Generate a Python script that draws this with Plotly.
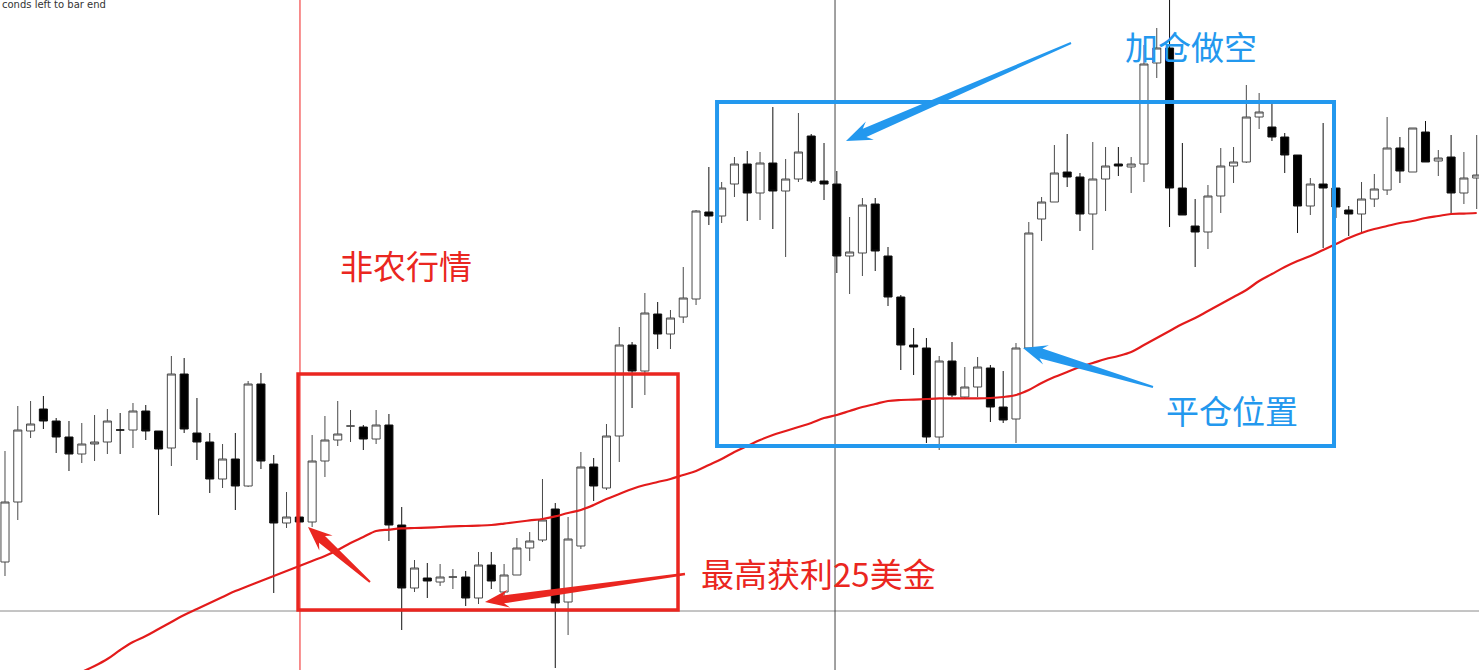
import math
import plotly.graph_objects as go

# ---- price data (one bar per entry) ----
opens = [1894.5, 1909.5, 1927.25, 1932.75, 1929.75, 1925.75, 1921.5, 1924, 1924.5, 1927.5,
         1927.5, 1932.25, 1927.25, 1923, 1941.5, 1926.75, 1924.5, 1915.25, 1920.25, 1913.5,
         1939, 1919, 1904.25, 1905.75, 1904.5, 1919.75, 1925, 1928.5, 1928.25, 1925.25,
         1928.75, 1903.75, 1888, 1890.5, 1889.5, 1890.75, 1890.75, 1885.5, 1893.75, 1887,
         1891.25, 1898, 1900, 1907.75, 1884.5, 1898.5, 1918.25, 1913, 1926, 1948.75,
         1942.25, 1956.5, 1951.5, 1955.75, 1960.25, 1982, 1981, 1989, 1994, 1986.75,
         1994.25, 1987.25, 1990.25, 2001, 1989.75, 1989, 1971, 1971.75, 1984, 1971,
         1960.75, 1948.75, 1948, 1925.75, 1944.75, 1935.75, 1938.25, 1943, 1933.25, 1930.25,
         1948, 1980.25, 1984.5, 1992, 1990.75, 1981.5, 1990.25, 1994, 1993.25, 1994,
         2019.25, 2023, 1988, 1978.5, 1977, 1986, 1993.5, 1994.5, 2005.75, 2003.25,
         2000.75, 1996.25, 1983.5, 1989, 1988, 1982.5, 1981.5, 1985.25, 1987.5, 1998,
         1992, 2002, 1994.75, 1995.75, 1986.75, 1990.5]

highs = [1922.25, 1933.5, 1934.75, 1936, 1930.5, 1929.75, 1929.25, 1931.25, 1932.75, 1931.75,
         1934.25, 1933.75, 1927.25, 1946, 1945.5, 1935.5, 1926.75, 1924, 1926.75, 1939.75,
         1941.75, 1921.25, 1912, 1905.75, 1926.25, 1931, 1934.75, 1932.5, 1928.75, 1932.5,
         1931.5, 1908.25, 1895, 1894.25, 1894, 1892.75, 1892.25, 1897, 1897, 1894,
         1900.5, 1902, 1915.25, 1909.25, 1905.75, 1922, 1920.5, 1929, 1953.25, 1949.5,
         1961.75, 1959.5, 1957.5, 1968.25, 1982.5, 1993.25, 1989.5, 1995.75, 1997.25, 1997,
         2008.25, 1995.25, 2006.75, 2001.5, 1999.25, 1992.25, 1980.75, 1985.5, 1985.5, 1973.25,
         1961.25, 1953, 1950.5, 1946, 1949.5, 1943.25, 1945.75, 1943.75, 1942.25, 1949.25,
         1979.5, 1985.75, 1998.75, 2001.5, 1991.75, 1999.5, 1998.25, 1998.25, 1995.75, 2023.75,
         2028, 2036.25, 1999.25, 1985.25, 1988.75, 1998, 1998.25, 2013.75, 2011.75, 2009,
         2001.75, 1996.25, 1990.5, 2004.25, 1988, 1983.5, 1989.5, 1991.5, 2005.75, 2000.75,
         2003, 2004.75, 1997.5, 2001.25, 1997, 2001.25]

lows = [1891, 1905, 1925.5, 1927.75, 1921.75, 1917.25, 1919.25, 1919.75, 1921.5, 1921.5,
        1923, 1925, 1906.25, 1918.5, 1926.75, 1920, 1911.75, 1913, 1907.5, 1913.25,
        1917.75, 1886.75, 1903, 1904.5, 1903.25, 1915.75, 1923.5, 1924.5, 1922.5, 1924,
        1899.75, 1877.5, 1887, 1885.5, 1888.5, 1887.75, 1883.5, 1884, 1887.75, 1886,
        1891.25, 1894.75, 1899.5, 1868, 1876.25, 1897.75, 1909.75, 1912.5, 1919.5, 1933,
        1936.25, 1947.75, 1947.75, 1954.25, 1958.75, 1978.75, 1979.25, 1985.75, 1979.75, 1980,
        1977.75, 1970.75, 1989.5, 1989.25, 1985, 1966.75, 1961.5, 1966, 1967.25, 1958.5,
        1942.5, 1941.25, 1924.25, 1922.5, 1935.75, 1935.5, 1935.75, 1929.5, 1929.25, 1924.25,
        1948, 1974.75, 1984.5, 1988.25, 1977.25, 1972.5, 1982.25, 1991, 1986.75, 1989.5,
        2015.5, 1978.25, 1981.25, 1968.25, 1972.75, 1981.75, 1989.25, 1994.25, 2002.75, 1999.75,
        1991.75, 1976.75, 1981.25, 1973, 1980.5, 1976, 1976.5, 1983.25, 1986.25, 1989.25,
        1992, 1994.5, 1991, 1981.5, 1984, 1982.75]

closes = [1909.5, 1927.5, 1929, 1929.75, 1925.75, 1921.5, 1924, 1924.5, 1929.75, 1927.5,
          1932.25, 1927.25, 1922.75, 1941.5, 1927.75, 1924.5, 1915.25, 1920.25, 1913.5, 1939,
          1919.75, 1904.25, 1905.75, 1904.5, 1919.75, 1925, 1926.5, 1928.5, 1925.25, 1928.75,
          1903.75, 1888, 1893, 1889.75, 1890.75, 1890.75, 1885.5, 1893.75, 1889.75, 1891.25,
          1898, 1899.75, 1905, 1884.25, 1900.25, 1918.25, 1913.5, 1926, 1948.75, 1942.25,
          1956.75, 1951.5, 1955.5, 1960.5, 1982.25, 1981, 1988, 1994, 1986.75, 1994.25,
          1987.25, 1990.25, 1997, 1989.75, 1989, 1971, 1972, 1983.75, 1972.25, 1960.75,
          1948.75, 1948.25, 1925.75, 1944.75, 1936.25, 1938.25, 1943.25, 1933.25, 1930, 1948,
          1976.75, 1984.5, 1991.75, 1990.75, 1981.5, 1990.25, 1993.5, 1993.5, 1994, 2019,
          2023, 1988, 1981.25, 1977, 1986, 1993.5, 1994.5, 2005.75, 2007, 2000.75,
          1996.25, 1983.5, 1989, 1988, 1983.25, 1981.5, 1985.25, 1987.75, 1998, 1992.25,
          2003, 1994.5, 1995.5, 1986.75, 1990.5, 1991.25]

# long-period moving average
ma_values = [1857.5, 1859, 1860.75, 1862.25, 1864, 1865.5, 1867, 1868.5, 1870.25, 1872.5,
             1874.5, 1876, 1877.75, 1879.5, 1881.25, 1882.75, 1884.25, 1885.75, 1887.25, 1888.5,
             1889.75, 1891, 1892.25, 1893.5, 1894.75, 1896, 1897.5, 1899.25, 1900.75, 1902.25,
             1902.6, 1902.9, 1903, 1903.1, 1903.25, 1903.4, 1903.5, 1903.6, 1903.75, 1904.1,
             1904.5, 1904.9, 1905.25, 1905.9, 1906.75, 1907.5, 1908.75, 1910.25, 1911.5, 1912.75,
             1913.75, 1914.5, 1915.25, 1916.25, 1917.25, 1918.75, 1920.25, 1922, 1923.5, 1925,
             1926.25, 1927.25, 1928.25, 1929.25, 1930.5, 1931.25, 1932.25, 1933.25, 1934, 1934.75,
             1935, 1935.1, 1935.25, 1935.4, 1935.4, 1935.4, 1935.4, 1935.5, 1935.75, 1936.25,
             1937.5, 1939.25, 1940.75, 1942, 1943.25, 1944.25, 1945.25, 1946, 1947, 1948.75,
             1950.5, 1952.25, 1954, 1955.5, 1957.25, 1959, 1960.75, 1962.5, 1964.75, 1966.5,
             1968.25, 1969.75, 1971, 1972.5, 1974, 1975.5, 1976.75, 1977.75, 1978.5, 1979.25,
             1979.75, 1980.5, 1981, 1981.5, 1981.6, 1981.75]

bars = list(range(len(opens)))

W, H = 1479, 670
X_RANGE = [-0.39, 115.18]
Y_RANGE = [1867.5, 2035.0]

RED = "#ea2620"
BLUE = "#2398ee"

fig = go.Figure()

fig.add_trace(go.Candlestick(
    x=bars, open=opens, high=highs, low=lows, close=closes,
    increasing=dict(line=dict(color="#4a4a4a", width=1), fillcolor="#ffffff"),
    decreasing=dict(line=dict(color="#111111", width=1), fillcolor="#000000"),
    whiskerwidth=0, hoverinfo="skip", showlegend=False,
))

fig.add_trace(go.Scatter(
    x=bars, y=ma_values, mode="lines", line=dict(color="#e31b1b", width=2.2, shape="spline"),
    hoverinfo="skip", showlegend=False,
))


def paper(px, py):
    return px / W, 1 - py / H


def tapered_arrow(tail, tip, w_tail, w_join, head_len, head_half):
    """Filled arrow polygon, thin at the tail and widening toward a barbed head."""
    x0, y0 = tail
    x1, y1 = tip
    L = math.hypot(x1 - x0, y1 - y0)
    ux, uy = (x1 - x0) / L, (y1 - y0) / L
    nx, ny = -uy, ux
    jx, jy = x1 - ux * head_len * 0.78, y1 - uy * head_len * 0.78
    bx, by = x1 - ux * head_len, y1 - uy * head_len
    pts = [
        (x0 + nx * w_tail, y0 + ny * w_tail),
        (jx + nx * w_join, jy + ny * w_join),
        (bx + nx * head_half, by + ny * head_half),
        (x1, y1),
        (bx - nx * head_half, by - ny * head_half),
        (jx - nx * w_join, jy - ny * w_join),
        (x0 - nx * w_tail, y0 - ny * w_tail),
    ]
    segs = []
    for k, (px, py) in enumerate(pts):
        xp, yp = paper(px, py)
        segs.append(("M" if k == 0 else "L") + f"{xp:.5f},{yp:.5f}")
    return " ".join(segs) + " Z"


shapes = [
    # price reference line
    dict(type="line", xref="paper", x0=0, x1=1, yref="y", y0=1882.25, y1=1882.25,
         line=dict(color="#8a8a8a", width=1), layer="below"),
    # period separators
    dict(type="line", xref="x", x0=23.05, x1=23.05, yref="paper", y0=0, y1=1,
         line=dict(color="#f02020", width=1), layer="below"),
    dict(type="line", xref="x", x0=64.86, x1=64.86, yref="paper", y0=0, y1=1,
         line=dict(color="#444444", width=1), layer="below"),
    # highlighted zones
    dict(type="rect", xref="x", yref="y", x0=22.9, x1=52.59, y0=1882.5, y1=1941.5,
         line=dict(color=RED, width=3.5), fillcolor="rgba(0,0,0,0)", layer="above"),
    dict(type="rect", xref="x", yref="y", x0=55.64, x1=103.85, y0=1923.5, y1=2009.5,
         line=dict(color=BLUE, width=4), fillcolor="rgba(0,0,0,0)", layer="above"),
]

arrows = [
    ((370, 582), (308, 527), 1.0, 4.5, 24, 10, RED),
    ((685, 574), (485, 602), 1.2, 4.0, 24, 9, RED),
    ((1071, 43), (846, 141), 1.0, 4.5, 26, 10, BLUE),
    ((1153, 387), (1023, 348), 1.0, 5.0, 24, 10, BLUE),
]
for tail, tip, wt, wj, hl, hh, col in arrows:
    shapes.append(dict(type="path", xref="paper", yref="paper",
                       path=tapered_arrow(tail, tip, wt, wj, hl, hh),
                       fillcolor=col, line=dict(width=0), layer="above"))

labels = [
    ("非农行情", 406, 265, RED),
    ("最高获利25美金", 818, 573, RED),
    ("加仓做空", 1191, 46, BLUE),
    ("平仓位置", 1232, 410, BLUE),
]
annotations = []
for text, px, py, col in labels:
    xp, yp = paper(px, py)
    annotations.append(dict(text=text, x=xp, y=yp, xref="paper", yref="paper",
                            xanchor="center", yanchor="middle", showarrow=False,
                            font=dict(family="Noto Sans CJK SC", size=33, color=col)))

annotations.append(dict(text="conds left to bar end", x=0, y=1.004, xref="paper", yref="paper",
                        xanchor="left", yanchor="top", showarrow=False,
                        font=dict(family="DejaVu Sans", size=10, color="#333333")))

fig.update_layout(
    width=W, height=H,
    margin=dict(l=0, r=0, t=0, b=0),
    paper_bgcolor="white", plot_bgcolor="white",
    showlegend=False,
    boxgap=0.37, boxgroupgap=0,
    xaxis=dict(range=X_RANGE, visible=False, rangeslider=dict(visible=False), fixedrange=True),
    yaxis=dict(range=Y_RANGE, visible=False, fixedrange=True),
    shapes=shapes,
    annotations=annotations,
)

fig.write_html("out.html", config={"displayModeBar": False})
